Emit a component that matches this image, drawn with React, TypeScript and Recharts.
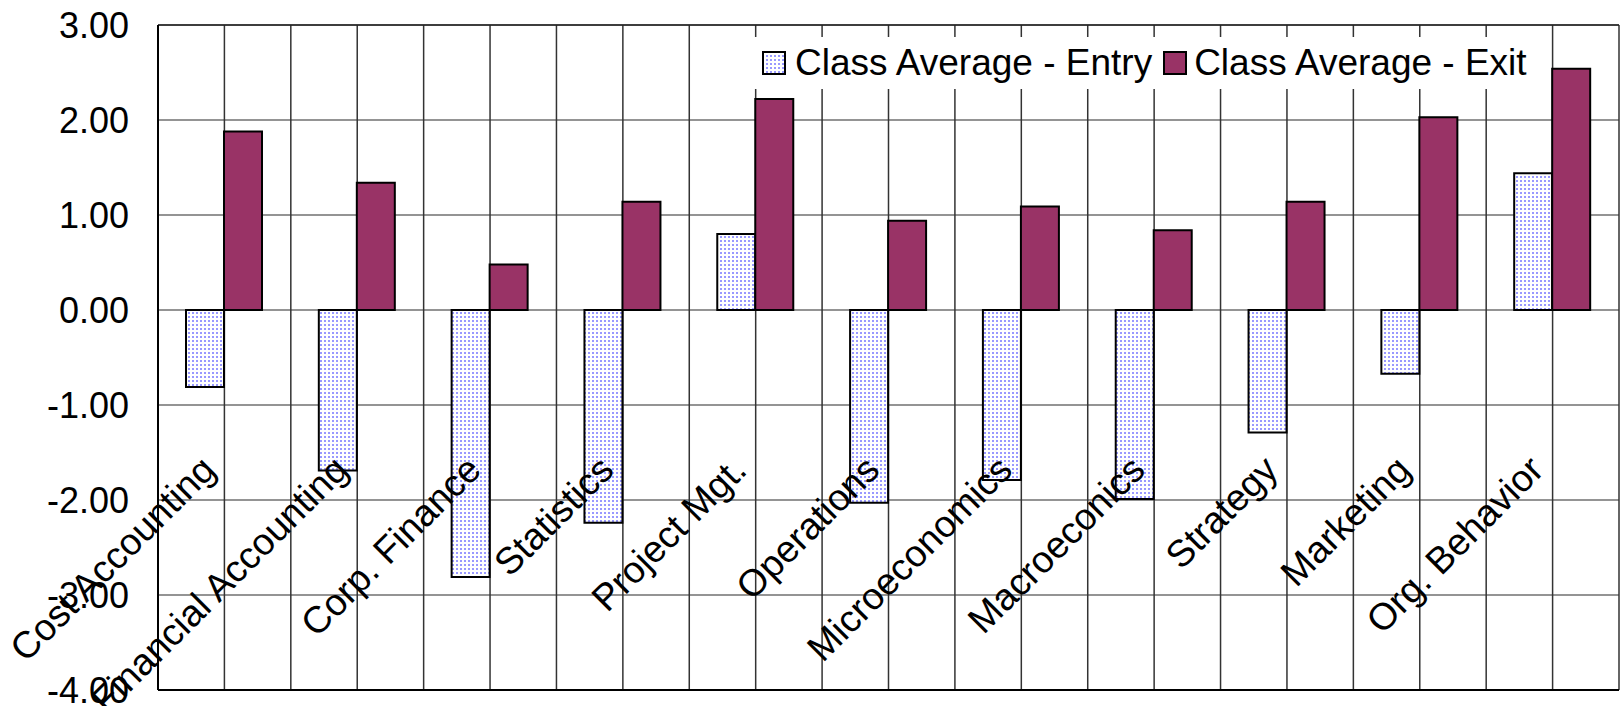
import React from 'react';
import {
  BarChart,
  Bar,
  XAxis,
  YAxis,
  CartesianGrid,
  ReferenceLine,
  Legend,
} from 'recharts';

const categories = [
  'Cost Accounting',
  'Financial Accounting',
  'Corp. Finance',
  'Statistics',
  'Project Mgt.',
  'Operations',
  'Microeconomics',
  'Macroeconics',
  'Strategy',
  'Marketing',
  'Org. Behavior',
];

const entryValues = [-0.81, -1.69, -2.81, -2.24, 0.8, -2.03, -1.79, -1.99, -1.29, -0.67, 1.44];
const exitValues = [1.88, 1.34, 0.48, 1.14, 2.22, 0.94, 1.09, 0.84, 1.14, 2.03, 2.54];

const yTicks = [-4, -3, -2, -1, 0, 1, 2, 3];

const seriesNames = ['Class Average - Entry', 'Class Average - Exit'];

const data = categories.map((name, i) => ({
  name,
  entry: entryValues[i],
  exit: exitValues[i],
}));

const FONT = "'Liberation Sans', Arial, sans-serif";
const EXIT_COLOR = '#993366';
const DOT_COLOR = '#9999ff';

const DotPattern = ({ id }: { id: string }) => (
  <pattern id={id} width="4" height="4" patternUnits="userSpaceOnUse">
    <rect width="4" height="4" fill="#fff" />
    <rect x="0" y="0" width="2" height="2" fill={DOT_COLOR} />
  </pattern>
);

// category labels sit well up inside the plot, like the original
const CategoryTick = (props: any) => {
  const { x, y, payload } = props;
  const tx = x - 7;
  const ty = y - 218;
  return (
    <text
      x={tx}
      y={ty}
      transform={`rotate(-45, ${tx}, ${ty})`}
      textAnchor="end"
      fontSize={37.5}
      fontFamily={FONT}
      fill="#000"
    >
      {payload.value}
    </text>
  );
};

const Swatch = ({ fill }: { fill: string }) => (
  <svg width={24} height={24} style={{ display: 'block' }}>
    <defs>
      <DotPattern id="legendDots" />
    </defs>
    <rect x={1} y={1} width={22} height={22} fill={fill} stroke="#000" strokeWidth={2} />
  </svg>
);

const LegendBox = () => (
  <div
    style={{
      background: '#fff',
      display: 'flex',
      alignItems: 'center',
      height: 52,
      paddingLeft: 14,
      paddingRight: 18,
      fontFamily: FONT,
      fontSize: 37,
      color: '#000',
      whiteSpace: 'nowrap',
    }}
  >
    <Swatch fill="url(#legendDots)" />
    <span style={{ marginLeft: 9, marginRight: 11 }}>{seriesNames[0]}</span>
    <Swatch fill={EXIT_COLOR} />
    <span style={{ marginLeft: 7 }}>{seriesNames[1]}</span>
  </div>
);

export default function App() {
  return (
    <div>
      <style>{'body{margin:0;}'}</style>
      <BarChart
        width={1621}
        height={706}
        data={data}
        margin={{ top: 25, right: 2, bottom: 0, left: 0 }}
        barGap={0}
        barSize={38}
      >
        <defs>
          <DotPattern id="entryDots" />
        </defs>
        <CartesianGrid vertical={false} stroke="#707070" strokeWidth={1.5} />
        <CartesianGrid
          horizontal={false}
          stroke="#333"
          strokeWidth={1.5}
          verticalCoordinatesGenerator={({ offset }: any) =>
            Array.from({ length: categories.length * 2 + 1 }, (_, i) =>
              offset.left + (i * offset.width) / (categories.length * 2)
            )
          }
        />
        <ReferenceLine y={3} stroke="#222" strokeWidth={1.5} />
        <XAxis
          dataKey="name"
          height={16}
          tickSize={0}
          tickMargin={0}
          tickLine={false}
          axisLine={{ stroke: '#000', strokeWidth: 2 }}
          tick={<CategoryTick />}
          interval={0}
        />
        <YAxis
          width={158}
          domain={[-4, 3]}
          ticks={yTicks}
          interval={0}
          tickSize={0}
          tickMargin={29}
          tickLine={false}
          axisLine={{ stroke: '#000', strokeWidth: 2 }}
          tickFormatter={(v: number) => v.toFixed(2)}
          tick={{ fontSize: 36, fontFamily: FONT, fill: '#000' }}
        />
        <Legend
          layout="horizontal"
          verticalAlign="middle"
          align="center"
          content={<LegendBox />}
          wrapperStyle={{ top: 37, left: 748, width: 'auto' }}
        />
        <Bar
          dataKey="entry"
          name={seriesNames[0]}
          fill="url(#entryDots)"
          stroke="#000"
          strokeWidth={2}
          isAnimationActive={false}
        />
        <Bar
          dataKey="exit"
          name={seriesNames[1]}
          fill={EXIT_COLOR}
          stroke="#000"
          strokeWidth={2}
          isAnimationActive={false}
        />
      </BarChart>
    </div>
  );
}
